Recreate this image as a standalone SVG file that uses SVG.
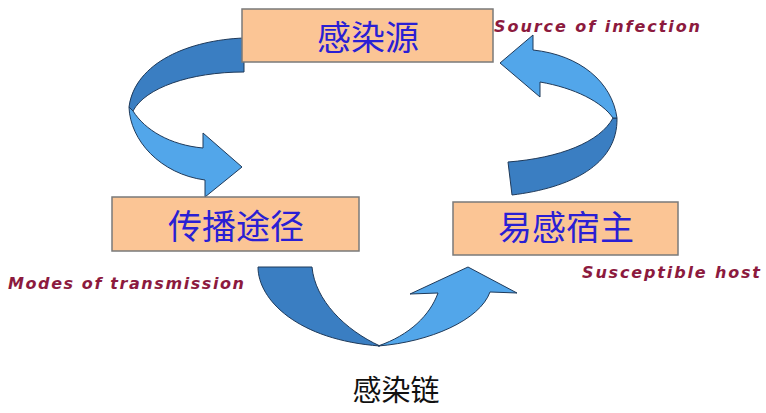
<svg xmlns="http://www.w3.org/2000/svg" width="766" height="413" viewBox="0 0 766 413">
<style>
.box{fill:#FBC595;stroke:#7a7a7a;stroke-width:1.5}
.cn{font-family:"Noto Sans CJK SC","Noto Sans",sans-serif;font-size:34px;fill:#2A1FD4;text-anchor:middle}
.en{font-family:"DejaVu Sans","Liberation Sans",sans-serif;font-weight:bold;font-style:italic;font-size:16px;fill:#8C1A3E}
.dark{fill:#3A7EC2;stroke:#1F3A5A;stroke-width:1}
.light{fill:#52A6EA;stroke:#1F3A5A;stroke-width:1}
.title{font-family:"Noto Sans CJK SC","Noto Sans",sans-serif;font-size:29px;fill:#111;text-anchor:middle}
</style>
<rect width="766" height="413" fill="#ffffff"/>
<g id="connectors">
  <g id="arrow-source-to-transmission">
    <path class="dark" d="M244,38 C190,40 135,62 129,107 L133,111 C145,88 190,72 244,72 Z"/>
    <path class="light" d="M129,107 C130,140 160,174 205,180 L205,197 L242,167 L203,133 L203,148 C170,145 145,130 133,111 Z"/>
  </g>
  <g id="arrow-transmission-to-host">
    <path class="dark" d="M258,267 C258,300 298,340 380,346 C345,330 315,300 312,267 Z"/>
    <path class="light" d="M378,346 C430,342 480,320 490,292 L517,293 L468,267 L410,294 L438,293 C430,315 410,335 378,346 Z"/>
  </g>
  <g id="arrow-host-to-source">
    <path class="dark" d="M512,195 C570,188 618,165 617,118 L613,118 C600,142 560,158 508,162 Z"/>
    <path class="light" d="M617,118 C612,82 580,55 533,50 L533,35 L500,63 L540,97 L540,82 C575,88 602,102 613,118 Z"/>
  </g>
</g>
<g id="node-source">
  <rect class="box" x="242" y="9" width="251" height="53"/>
  <text class="cn" x="368" y="50">感染源</text>
</g>
<g id="node-transmission">
  <rect class="box" x="112" y="197" width="247" height="54"/>
  <text class="cn" x="236" y="239">传播途径</text>
</g>
<g id="node-host">
  <rect class="box" x="453" y="202" width="225" height="53"/>
  <text class="cn" x="566" y="240">易感宿主</text>
</g>
<g id="labels">
  <text class="en" x="494" y="32" textLength="206" lengthAdjust="spacing">Source  of  infection</text>
  <text class="en" x="8" y="289" textLength="236" lengthAdjust="spacing">Modes of transmission</text>
  <text class="en" x="582" y="278" textLength="178" lengthAdjust="spacing">Susceptible host</text>
  <text class="title" x="396" y="401">感染链</text>
</g>
</svg>
